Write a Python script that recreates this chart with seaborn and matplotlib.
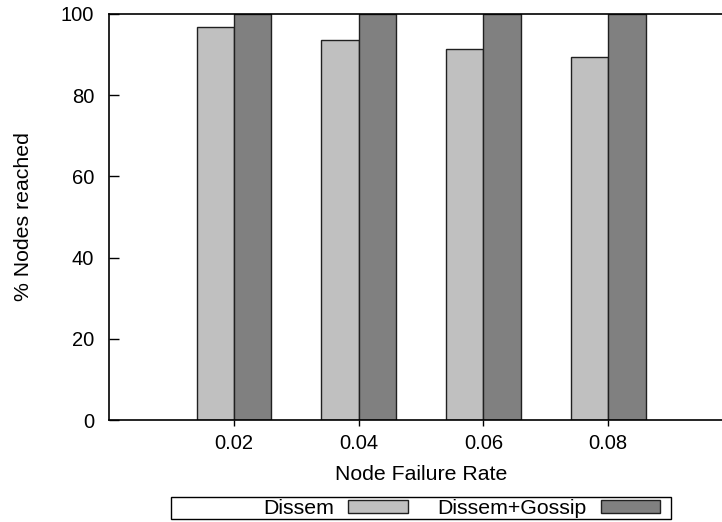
import pandas as pd
import seaborn as sns
import matplotlib.pyplot as plt
from matplotlib.patches import Patch, Rectangle

# values
failure_rates = [0.02, 0.04, 0.06, 0.08]
dissem = [96.7, 93.5, 91.5, 89.5]
dissem_gossip = [100, 100, 100, 100]
series_names = ["Dissem", "Dissem+Gossip"]
colors = ["#c0c0c0", "#808080"]

df = pd.DataFrame({
    "rate": failure_rates * 2,
    "pct": dissem + dissem_gossip,
    "series": [series_names[0]] * 4 + [series_names[1]] * 4,
})

sns.set_style("white")
plt.rcParams["font.family"] = ["Liberation Sans", "DejaVu Sans"]
plt.rcParams["font.size"] = 14.5
plt.rcParams["text.color"] = "black"
plt.rcParams["axes.labelcolor"] = "black"
plt.rcParams["xtick.color"] = "black"
plt.rcParams["ytick.color"] = "black"

W, H = 722, 522
fig = plt.figure(figsize=(W / 100, H / 100), dpi=100)
# axes runs a little past the right edge, like the cropped original
ax = fig.add_axes([109.3 / W, (H - 420) / H, (732.8 - 109.3) / W, 406 / H])

sns.barplot(data=df, x="rate", y="pct", hue="series", native_scale=True,
            width=0.6, gap=0, palette=colors, edgecolor="#202020",
            linewidth=1.0, legend=False, ax=ax)

ax.set_xlim(0, 0.1)
ax.set_ylim(0, 100)
ax.set_xticks(failure_rates)
ax.set_xticklabels([f"{r:.2f}" for r in failure_rates])
ax.set_yticks(range(0, 101, 20))
ax.tick_params(axis="y", left=True, direction="in", length=7, width=1,
               pad=11, labelsize=14.5, colors="black")
ax.tick_params(axis="x", bottom=True, direction="out", length=4, width=1,
               pad=6, labelsize=14.5, colors="black")
for s in ax.spines.values():
    s.set_color("black")
    s.set_linewidth(1.2)

ax.set_xlabel("Node Failure Rate", fontsize=15.3, labelpad=9, color="black")
ax.set_ylabel("% Nodes reached", fontsize=15.3, color="black")
ax.yaxis.set_label_coords(-0.122, 0.5)

# legend below the plot, gnuplot-like: text then sample, in a wide box
handles = [Patch(facecolor=c, edgecolor="#202020", linewidth=1.0) for c in colors]
fig.legend(handles, series_names, loc="center right", ncol=2,
           bbox_to_anchor=(660 / W, (H - 508.3) / H), frameon=False,
           markerfirst=False, handlelength=2.8, handleheight=0.55,
           handletextpad=0.65, columnspacing=1.4, borderpad=0,
           borderaxespad=0, fontsize=15.3)
fig.patches.append(Rectangle((170.7 / W, (H - 519.3) / H), 500 / W, 22 / H,
                             transform=fig.transFigure, fill=False,
                             edgecolor="black", linewidth=1.0))

fig.savefig("out.png", dpi=100)
